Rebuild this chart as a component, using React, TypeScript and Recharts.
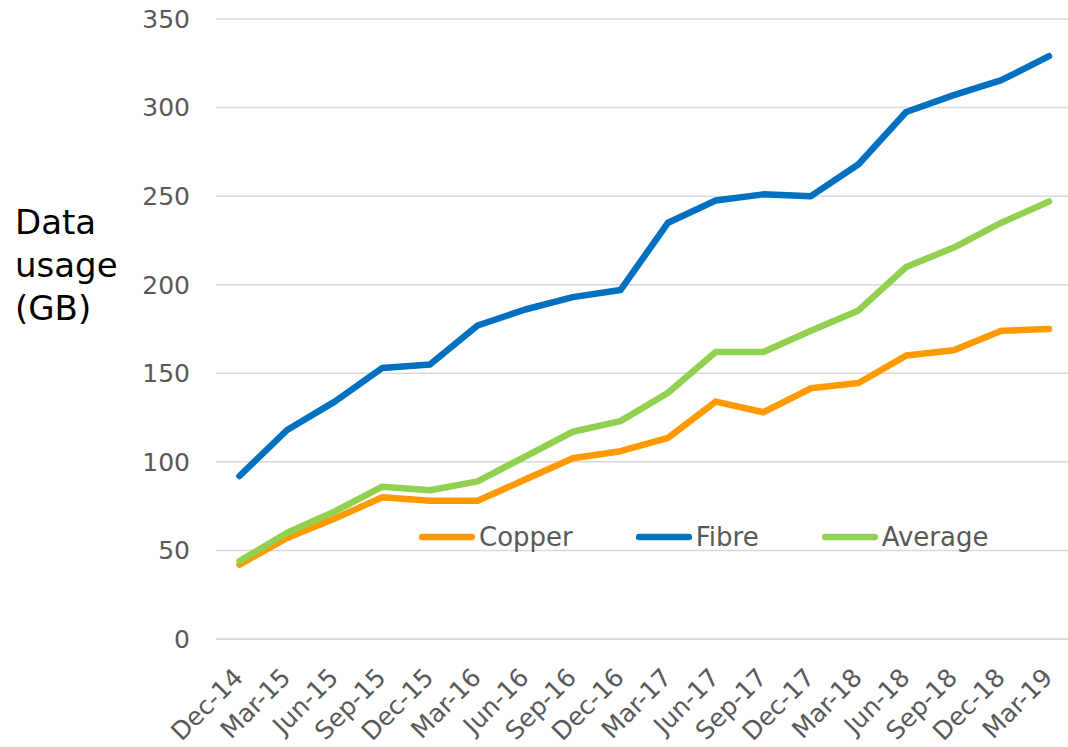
import React from 'react';
import { LineChart, Line, XAxis, YAxis, CartesianGrid, Legend } from 'recharts';

const quarters = ['Dec-14','Mar-15','Jun-15','Sep-15','Dec-15','Mar-16','Jun-16','Sep-16','Dec-16','Mar-17','Jun-17','Sep-17','Dec-17','Mar-18','Jun-18','Sep-18','Dec-18','Mar-19'];
const copper = [42, 57, 68, 80, 78, 78, 90, 102, 106, 113.5, 134, 128, 141.5, 144.5, 160, 163, 174, 175];
const fibre = [92, 118, 134, 153, 155, 177, 186, 193, 197, 235, 247.5, 251, 250, 268, 297.5, 307, 315.5, 329];
const average = [44, 60, 72, 86, 84, 89, 103, 117, 123, 139, 162, 162, 174, 185.5, 210, 221, 235, 247];
const yTicks = [0, 50, 100, 150, 200, 250, 300, 350];
const seriesOrder = ['Copper', 'Fibre', 'Average'];

const data = quarters.map((q, i) => ({ q, Copper: copper[i], Fibre: fibre[i], Average: average[i] }));

const FONT = '"DejaVu Sans", Verdana, sans-serif';
const GREY = '#595959';

const XTick = (props: any) => {
  const { x, payload } = props;
  return (
    <g transform={`translate(${x + 5},${639 + 40})`}>
      <text x={0} y={0} textAnchor="end" transform="rotate(-45)" fill={GREY} fontSize={25} fontFamily={FONT}>
        {payload.value}
      </text>
    </g>
  );
};

const renderLegend = (props: any) => {
  const payload = [...(props.payload || [])].sort(
    (a: any, b: any) => seriesOrder.indexOf(a.value) - seriesOrder.indexOf(b.value)
  );
  return (
    <div style={{ display: 'flex', alignItems: 'center', fontFamily: FONT, fontSize: 26, color: GREY }}>
      {payload.map((p: any, i: number) => (
        <div key={i} style={{ display: 'flex', alignItems: 'center', marginRight: i < payload.length - 1 ? 63 : 0 }}>
          <svg width={56} height={8} style={{ marginRight: 4 }}>
            <line x1={3} y1={4} x2={53} y2={4} stroke={p.color} strokeWidth={6.5} strokeLinecap="round" />
          </svg>
          <span>{p.value}</span>
        </div>
      ))}
    </div>
  );
};

export default function App() {
  return (
    <div style={{ position: 'absolute', left: 0, top: 0, width: 1068, height: 747, background: '#fff' }}>
      <div style={{ position: 'absolute', left: 15, top: 201, fontFamily: FONT, fontSize: 34, lineHeight: '43px', color: '#000' }}>
        Data<br />usage<br />(GB)
      </div>
      <LineChart width={1068} height={747} data={data} margin={{ top: 19, right: 0, bottom: 0, left: 0 }}>
        <CartesianGrid vertical={false} stroke="#D9D9D9" strokeWidth={1.5} />
        <XAxis
          dataKey="q"
          interval={0}
          height={108}
          padding={{ left: 23.5, right: 19 }}
          axisLine={{ stroke: '#D9D9D9', strokeWidth: 1.5 }}
          tickLine={false}
          tick={<XTick />}
        />
        <YAxis
          width={216}
          domain={[0, 350]}
          ticks={yTicks}
          axisLine={false}
          tickLine={false}
          tickSize={0}
          tickMargin={26}
          tick={{ fill: GREY, fontSize: 25, fontFamily: FONT }}
        />
        <Legend
          verticalAlign="middle"
          align="center"
          layout="horizontal"
          content={renderLegend}
          wrapperStyle={{ position: 'absolute', left: 419, top: 522, width: 'auto' }}
        />
        <Line type="linear" dataKey="Copper" stroke="#FF9900" strokeWidth={6.5} dot={false} isAnimationActive={false} strokeLinecap="round" strokeLinejoin="round" />
        <Line type="linear" dataKey="Fibre" stroke="#0070C0" strokeWidth={6.5} dot={false} isAnimationActive={false} strokeLinecap="round" strokeLinejoin="round" />
        <Line type="linear" dataKey="Average" stroke="#92D050" strokeWidth={6.5} dot={false} isAnimationActive={false} strokeLinecap="round" strokeLinejoin="round" />
      </LineChart>
    </div>
  );
}
